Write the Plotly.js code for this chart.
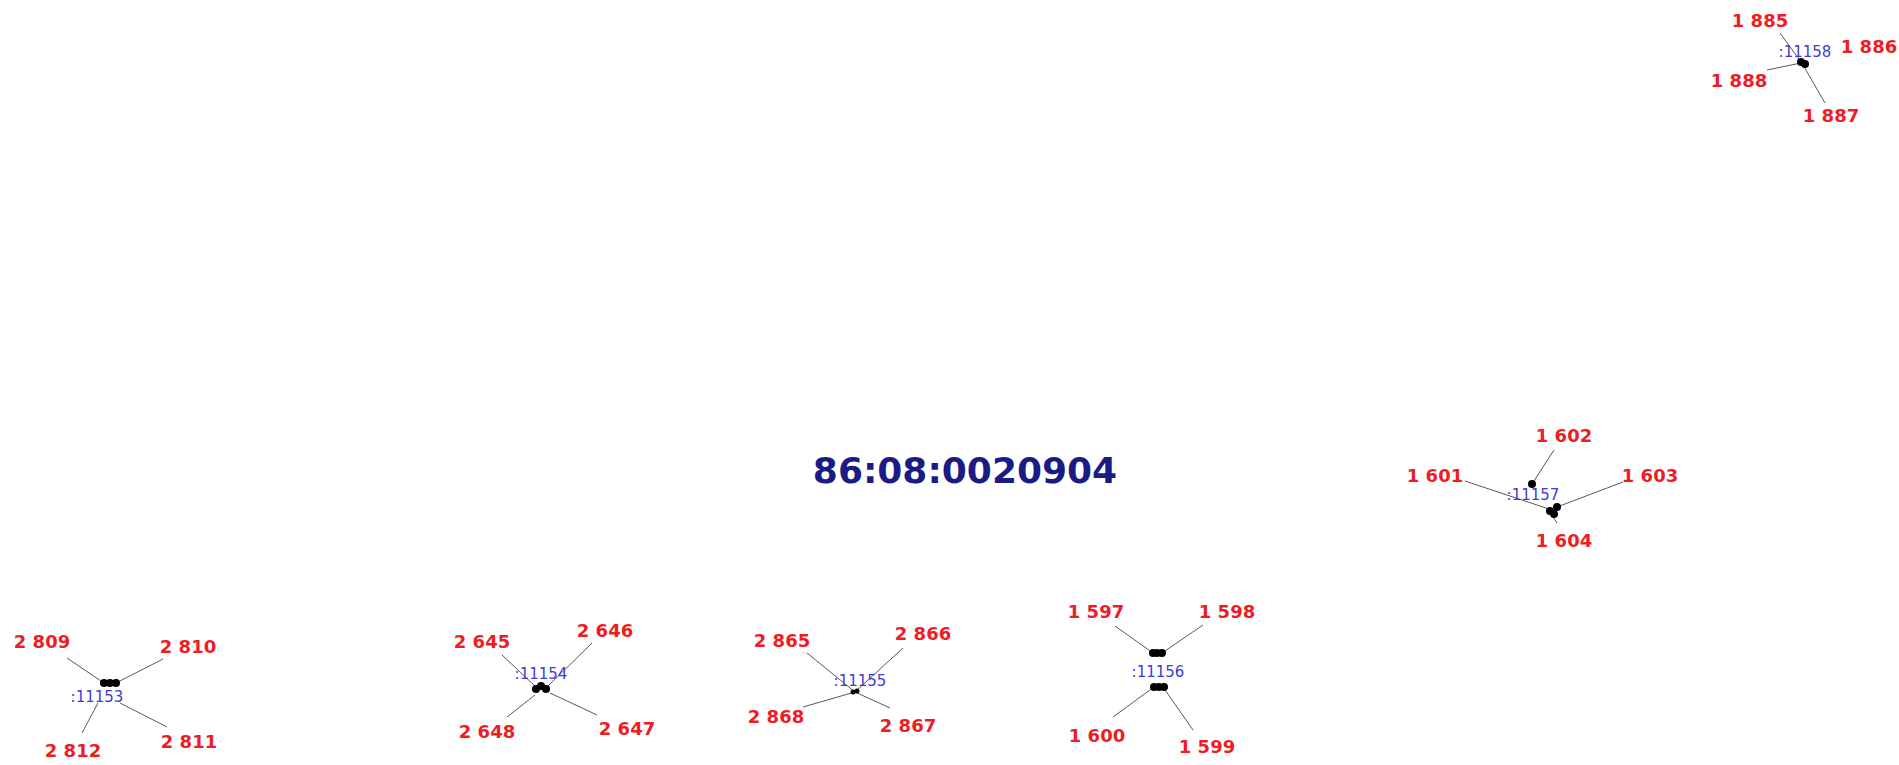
<!DOCTYPE html>
<html>
<head>
<meta charset="utf-8">
<script src="https://cdn.plot.ly/plotly-3.0.1.min.js"></script>
<style>html,body{margin:0;padding:0;background:#fff;}#chart{width:1899px;height:765px;}</style>
</head>
<body>
<div id="chart"></div>
<script>
// Cadastral quarter number
const quarterTitle = "86:08:0020904";

// Boundary-point group labels (blue) and their map positions
const groupLabels = [":11153", ":11154", ":11155", ":11156", ":11157", ":11158"];
const groupX = [97, 541, 860, 1158, 1533, 1805];
const groupY = [698, 675, 682, 673, 496, 53];

// Parcel point numbers (red) and their map positions
const pointLabels = [
  "2 809", "2 810", "2 811", "2 812",
  "2 645", "2 646", "2 647", "2 648",
  "2 865", "2 866", "2 867", "2 868",
  "1 597", "1 598", "1 599", "1 600",
  "1 601", "1 602", "1 603", "1 604",
  "1 885", "1 886", "1 887", "1 888"
];
const pointLabelX = [
  42, 188, 189, 73,
  482, 605, 627, 487,
  782, 923, 908, 776,
  1096, 1227, 1207, 1097,
  1435, 1564, 1650, 1564,
  1760, 1869, 1831, 1739
];
const pointLabelY = [
  643, 648, 743, 752,
  643, 632, 730, 733,
  642, 635, 727, 718,
  613, 613, 748, 737,
  477, 437, 477, 542,
  22, 48, 117, 82
];

// Leader lines: start (near label) and end (at marker)
const leaderStartX = [
  67, 163, 167, 82,
  502, 592, 597, 507,
  807, 903, 890, 803,
  1115, 1203, 1193, 1113,
  1465, 1554, 1623, 1553,
  1780, 1825, 1767
];
const leaderStartY = [
  658, 659, 727, 733,
  655, 643, 715, 717,
  653, 648, 708, 707,
  626, 625, 730, 717,
  481, 450, 482, 517,
  33, 103, 70
];
const leaderEndX = [
  104, 116, 120, 98,
  537, 546, 550, 535,
  855, 855, 855, 855,
  1153, 1162, 1163, 1154,
  1549, 1532, 1557, 1557,
  1801, 1803, 1801
];
const leaderEndY = [
  683, 683, 703, 703,
  688, 688, 693, 695,
  692, 692, 692, 692,
  653, 653, 687, 687,
  509, 484, 507, 523,
  62, 65, 63
];

// Boundary markers (black dots)
const markerX = [104, 110, 116, 536, 546, 541, 1153, 1157, 1162, 1154, 1159, 1164, 1532, 1550, 1557, 1554, 1801, 1805];
const markerY = [683, 683, 683, 689, 689, 686, 653, 653, 653, 687, 687, 687, 484, 511, 507, 514, 62, 64];
const smallMarkerX = [853, 857];
const smallMarkerY = [692, 691];

// build leader segments with gaps
const segX = [], segY = [];
for (let i = 0; i < leaderStartX.length; i++) {
  segX.push(leaderStartX[i], leaderEndX[i], null);
  segY.push(leaderStartY[i], leaderEndY[i], null);
}

const traces = [
  {
    type: "scatter", mode: "lines", x: segX, y: segY,
    line: {color: "#5a5a5a", width: 1}, hoverinfo: "skip", showlegend: false
  },
  {
    type: "scatter", mode: "markers", x: markerX, y: markerY,
    marker: {color: "#000", size: 8}, hoverinfo: "skip", showlegend: false
  },
  {
    type: "scatter", mode: "markers", x: smallMarkerX, y: smallMarkerY,
    marker: {color: "#000", size: 5}, hoverinfo: "skip", showlegend: false
  },
  {
    type: "scatter", mode: "text", x: groupX, y: groupY, text: groupLabels,
    textposition: "middle center",
    textfont: {family: "DejaVu Sans", size: 15, color: "#3d3dd8"},
    hoverinfo: "skip", showlegend: false
  },
  {
    type: "scatter", mode: "text", x: pointLabelX, y: pointLabelY, text: pointLabels,
    textposition: "middle center",
    textfont: {family: "DejaVu Sans", size: 18, color: "#ee1c24", weight: "bold"},
    hoverinfo: "skip", showlegend: false
  }
];

const layout = {
  width: 1899, height: 765,
  margin: {l: 0, r: 0, t: 0, b: 0},
  paper_bgcolor: "#ffffff", plot_bgcolor: "#ffffff",
  xaxis: {range: [0, 1899], visible: false, fixedrange: true},
  yaxis: {range: [765, 0], visible: false, fixedrange: true},
  title: {
    text: "<b>" + quarterTitle + "</b>",
    x: 965 / 1899, y: 1 - 470 / 765, xanchor: "center", yanchor: "middle",
    xref: "paper", yref: "paper",
    font: {family: "DejaVu Sans", size: 36, color: "#1b1b86"}
  },
  showlegend: false
};

Plotly.newPlot("chart", traces, layout, {staticPlot: true, displayModeBar: false});
</script>
</body>
</html>
